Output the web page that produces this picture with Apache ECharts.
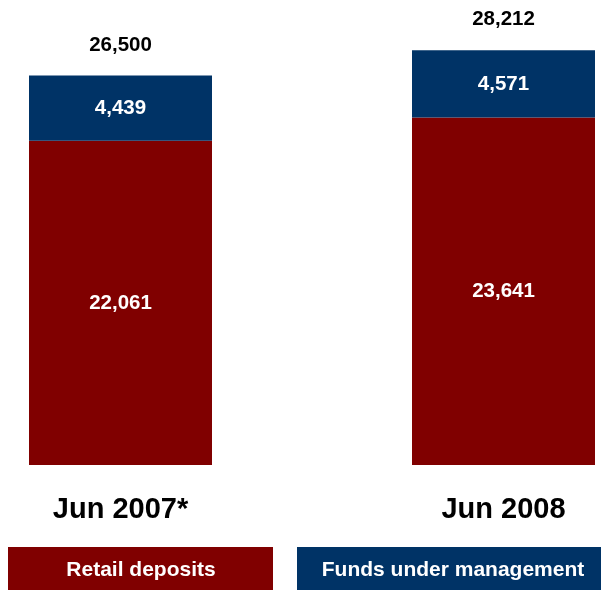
<!DOCTYPE html>
<html>
<head>
<meta charset="utf-8">
<script src="https://cdn.jsdelivr.net/npm/echarts@6/dist/echarts.min.js"></script>
<style>
html, body { margin: 0; padding: 0; background: #fff; }
#main { width: 601px; height: 590px; }
</style>
</head>
<body>
<div id="main"></div>
<script>
var categories = ['Jun 2007*', 'Jun 2008'];
var retailDeposits = [22061, 23641];
var fundsUnderMgmt = [4439, 4571];
var totals = [26500, 28212];

var RED = '#800000';
var BLUE = '#003366';
var FONT = '"Liberation Sans", Arial, sans-serif';

function fmt(v) {
	return Number(v).toLocaleString('en-US');
}

var myChart = echarts.init(document.getElementById('main'));
var option = {
	animation: false,
	grid: { left: 120.5, right: 97.5, top: 24, bottom: 125 },
	xAxis: {
		type: 'category',
		data: categories,
		boundaryGap: false,
		axisLine: { show: false },
		axisTick: { show: false },
		axisLabel: {
			margin: 30,
			color: '#000',
			fontSize: 29,
			fontWeight: 'bold',
			fontFamily: FONT
		}
	},
	yAxis: {
		type: 'value',
		min: 0,
		max: 30000,
		show: false
	},
	series: [{
		name: 'Retail deposits',
		type: 'bar',
		stack: 'a',
		clip: false,
		barWidth: 183,
		data: retailDeposits,
		itemStyle: { color: RED },
		label: {
			show: true,
			position: 'inside',
			color: '#fff',
			fontSize: 20.5,
			fontWeight: 'bold',
			fontFamily: FONT,
			formatter: function(p) { return fmt(p.value); }
		}
	}, {
		name: 'Funds under management',
		type: 'bar',
		stack: 'a',
		clip: false,
		barWidth: 183,
		data: fundsUnderMgmt,
		itemStyle: { color: BLUE },
		label: {
			show: true,
			position: 'inside',
			color: '#fff',
			fontSize: 20.5,
			fontWeight: 'bold',
			fontFamily: FONT,
			formatter: function(p) { return fmt(p.value); }
		}
	}, {
		name: 'Total',
		type: 'bar',
		stack: 'a',
		clip: false,
		barWidth: 183,
		data: [0, 0],
		itemStyle: { color: 'transparent' },
		label: {
			show: true,
			position: 'top',
			distance: 20,
			color: '#000',
			fontSize: 20.5,
			fontWeight: 'bold',
			fontFamily: FONT,
			formatter: function(p) { return fmt(totals[p.dataIndex]); }
		}
	}],
	graphic: [{
		type: 'group',
		left: 8,
		top: 547,
		children: [{
			type: 'rect',
			shape: { x: 0, y: 0, width: 265, height: 43 },
			style: { fill: RED }
		}, {
			type: 'text',
			x: 133,
			y: 23,
			style: {
				text: 'Retail deposits',
				fill: '#fff',
				font: 'bold 21px ' + FONT,
				textAlign: 'center',
				textVerticalAlign: 'middle'
			}
		}]
	}, {
		type: 'group',
		left: 297,
		top: 547,
		children: [{
			type: 'rect',
			shape: { x: 0, y: 0, width: 304, height: 43 },
			style: { fill: BLUE }
		}, {
			type: 'text',
			x: 156,
			y: 23,
			style: {
				text: 'Funds under management',
				fill: '#fff',
				font: 'bold 21px ' + FONT,
				textAlign: 'center',
				textVerticalAlign: 'middle'
			}
		}]
	}]
};
myChart.setOption(option);
</script>
</body>
</html>
